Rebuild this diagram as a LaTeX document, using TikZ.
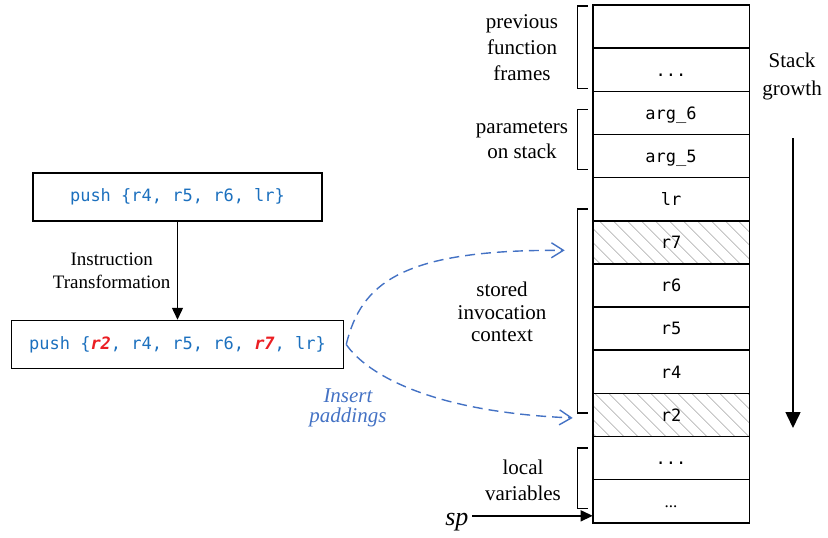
\documentclass[tikz,border=0pt]{standalone}
\usepackage{fontspec}
\setmainfont{Liberation Serif}
\setmonofont{DejaVu Sans Mono}
\usepackage{tikz}
\usetikzlibrary{arrows.meta,positioning,patterns.meta}
\definecolor{codeblue}{RGB}{28,112,190}
\definecolor{padblue}{RGB}{68,114,196}
\definecolor{padred}{RGB}{235,30,35}
\definecolor{hatchgray}{RGB}{200,200,200}
\newcommand{\celldots}{...}
\newcommand{\cellldots}{\rmfamily...}
\newcommand{\hl}[1]{\textcolor{padred}{\textbf{\textit{#1}}}}
\tikzstyle{box}=[
	draw=black,
	line width=1.5pt,
	minimum height=48pt,
	font=\fontsize{17}{20}\selectfont\ttfamily,
	text=codeblue
]
\tikzstyle{cell}=[
	draw=black,
	line width=1.6pt,
	minimum width=156.6pt,
	minimum height=43.15pt,
	inner sep=0pt,
	outer sep=0pt,
	text height=12.6pt,
	text depth=0pt,
	font=\fontsize{17}{20}\selectfont\ttfamily
]
\tikzstyle{hcell}=[
	cell,
	pattern={Lines[angle=-45,distance=10.5pt,line width=1.2pt]},
	pattern color=hatchgray
]
\tikzstyle{stacktext}=[
	align=center,
	inner sep=0pt
]
\tikzstyle{brk}=[
	draw=black,
	line width=1.5pt
]
\tikzstyle{pad}=[
	draw=padblue,
	line width=1.4pt,
	dash pattern=on 10pt off 6pt,
	-{Straight Barb[length=12pt,width=15pt]}
]
\tikzstyle{edge}=[
	draw=black,
	line width=1.4pt,
	-{Triangle[length=12pt,width=11pt]}
]

\begin{document}
\begin{tikzpicture}[x=1pt,y=-1pt]
\useasboundingbox (0,0) rectangle (828,538);

\node[cell] (s1) at (671,26.6) {};
\foreach \x/\t/\s [evaluate=\x as \y using int(\x-1)] in {2/\celldots/cell,3/arg\_6/cell,4/arg\_5/cell,5/lr/cell,6/r7/hcell,7/r6/cell,8/r5/cell,9/r4/cell,10/r2/hcell,11/\celldots/cell,12/\cellldots/cell} {
    \node[\s, below=0pt of s\y] (s\x) {\t};
}

\draw[brk] ([xshift=-5pt,yshift=-1pt]s1.north west) -- ++(-10pt,0) |- ([xshift=-5pt,yshift=3pt]s2.south west);
\draw[brk] ([xshift=-5pt,yshift=-18pt]s3.north west) -- ++(-10pt,0) |- ([xshift=-5pt,yshift=8pt]s4.south west);
\draw[brk] ([xshift=-5pt,yshift=11.6pt]s6.north west) -- ++(-10pt,0) |- ([xshift=-5pt,yshift=23.6pt]s10.south west);
\draw[brk] ([xshift=-5pt,yshift=-11.4pt]s11.north west) -- ++(-10pt,0) |- ([xshift=-5pt,yshift=14.5pt]s12.south west);

\node[stacktext, font=\fontsize{21}{26}\selectfont] (prev) at (522,48) {previous\\function\\frames};
\node[stacktext, font=\fontsize{21}{25}\selectfont] (param) at (522,140) {parameters\\on stack};
\node[stacktext, font=\fontsize{21}{22.5}\selectfont] (ctx) at (502,312) {stored\\invocation\\context};
\node[stacktext, font=\fontsize{21}{26}\selectfont] (local) at (523,480) {local\\variables};
\node[stacktext, font=\fontsize{21}{28}\selectfont] (growth) at (792,76) {Stack\\growth};

\coordinate (g1) at (793,138);
\coordinate (g2) at (793,428);
\draw[line width=1.6pt, -{Triangle[length=16pt,width=15pt]}] (g1) -- (g2);

\node[anchor=base east, font=\fontsize{26}{26}\selectfont\itshape] (sp) at (472,525) {sp};
\coordinate (sptip) at ([yshift=7pt]s12.south west);
\draw[edge] (sp.east |- sptip) -- (sptip);

\node[box, minimum width=289pt] (box1) at (177.5,197) {push \{r4, r5, r6, lr\}};
\node[box, minimum width=332pt, below=98pt of box1] (box2) {push \{\hl{r2}, r4, r5, r6, \hl{r7}, lr\}};
\draw[edge] (box1) -- node[left, xshift=-3pt, align=center, font=\fontsize{19}{23}\selectfont] {Instruction\\Transformation} (box2);

\coordinate (p0) at ([xshift=2pt]box2.east);
\coordinate (t1) at ([xshift=-28pt,yshift=-8pt]s6.west);
\coordinate (t2) at ([xshift=-20pt,yshift=-3pt]s10.west);
\draw[pad] (p0) .. controls +(15pt,62pt) and +(-162pt,1pt) .. (t1);
\draw[pad] (p0) .. controls +(20pt,-29pt) and +(-143pt,6pt) .. (t2);
\node[stacktext, text=padblue, font=\fontsize{21}{20}\selectfont\itshape] (ins) at (348,408) {Insert\\paddings};
\end{tikzpicture}
\end{document}
